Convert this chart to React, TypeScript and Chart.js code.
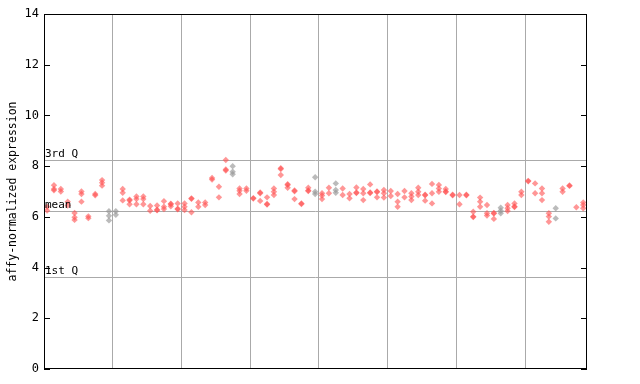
import React, { useEffect, useRef } from "react";
import { Chart, registerables } from "chart.js";

Chart.register(...registerables);

// Expression values per sample column (up to three replicates; null = absent)
const replicateA: (number | null)[] = [
  6.4, 7.25, 7.1, 6.6, 6.15, 7.0, 6.02, 6.9, 7.45, 6.22,
  6.22, 7.1, 6.68, 6.8, 6.8, 6.43, 6.45, 6.62, 6.52, 6.53,
  6.53, 6.73, 6.57, 6.57, 7.53, 7.19, 8.24, 8.0, 7.12, 7.12,
  6.74, 6.96, 6.77, 7.12, 7.92, 7.29, 7.04, 6.53, 7.15, 7.56,
  6.93, 7.15, 7.32, 7.12, 6.9, 7.16, 7.1, 7.28, 7.0, 7.06,
  7.02, 6.9, 7.02, 6.93, 7.15, 6.87, 7.3, 7.26, 7.1, 6.87,
  6.86, 6.87, 6.2, 6.76, 6.47, 6.15, 6.36, 6.47, 6.53, 6.99,
  7.42, 7.32, 7.12, 6.14, 6.34, 7.12, 7.24, 6.38, 6.57,
];
const replicateB: (number | null)[] = [
  6.25, 7.1, 7.0, 6.45, 5.98, 6.9, 5.95, 6.85, 7.35, 6.04,
  6.08, 6.95, 6.65, 6.7, 6.7, 6.24, 6.28, 6.4, 6.5, 6.32,
  6.4, 6.71, 6.4, 6.47, 7.47, 6.77, 7.87, 7.78, 7.03, 7.03,
  6.72, 6.93, 6.51, 6.99, 7.89, 7.26, 7.01, 6.51, 7.04, 6.99,
  6.84, 6.93, 7.06, 6.86, 6.73, 6.96, 6.93, 6.96, 6.98, 6.93,
  6.82, 6.6, 6.77, 6.8, 6.99, 6.85, 6.93, 7.12, 7.0, 6.85,
  6.5, 6.85, 6.01, 6.6, 6.14, 6.13, 6.24, 6.34, 6.41, 6.86,
  7.4, 6.93, 6.93, 6.01, 5.94, 6.99, 7.22, null, 6.47,
];
const replicateC: (number | null)[] = [
  null, 7.05, null, null, 5.88, 6.6, null, null, 7.23, 5.86,
  null, 6.65, 6.5, 6.5, 6.5, null, 6.26, 6.31, 6.42, 6.3,
  6.27, 6.18, null, null, null, null, 7.83, 7.68, 6.9, null,
  null, 6.63, 6.49, 6.86, 7.65, 7.15, 6.7, null, 7.02, 6.9,
  6.7, null, 6.95, null, null, 6.94, 6.66, 6.94, 6.77, 6.76,
  null, 6.4, null, 6.66, 6.86, 6.64, 6.53, 6.99, 6.98, null,
  null, null, 5.99, 6.4, 6.05, 5.92, 6.14, 6.23, 6.39, null,
  null, null, 6.66, 5.81, null, null, null, null, 6.34,
];
const grayColumns: number[] = [9, 10, 27, 39, 42, 66, 74];

const yTicks: number[] = [0, 2, 4, 6, 8, 10, 12, 14];
const quartileLabels: string[] = ["3rd Q", "mean", "1st Q"];
const quartileValues: number[] = [8.23, 6.23, 3.62];
const yTitle = "affy-normalized expression";
const sampleCount = 79;
const gridEvery = 10;

const MONO = "'DejaVu Sans Mono', monospace";

export default function App() {
  const canvasRef = useRef<HTMLCanvasElement | null>(null);

  useEffect(() => {
    document.body.style.margin = "0";
    const canvas = canvasRef.current;
    if (!canvas) return;

    const redPts: { x: number; y: number }[] = [];
    const grayPts: { x: number; y: number }[] = [];
    [replicateA, replicateB, replicateC].forEach((rep) => {
      rep.forEach((v, i) => {
        if (v === null || v === undefined) return;
        const p = { x: i + 0.45, y: v };
        if (grayColumns.includes(i)) grayPts.push(p);
        else redPts.push(p);
      });
    });

    const overlay = {
      id: "overlay",
      beforeDatasetsDraw(chart: any) {
        const { ctx, chartArea, scales } = chart;
        const ys = scales.y;
        ctx.save();
        ctx.strokeStyle = "#aaaaaa";
        ctx.lineWidth = 1;
        quartileValues.forEach((q) => {
          const py = Math.round(ys.getPixelForValue(q)) + 0.5;
          ctx.beginPath();
          ctx.moveTo(chartArea.left, py);
          ctx.lineTo(chartArea.right, py);
          ctx.stroke();
        });
        ctx.restore();
      },
      afterDraw(chart: any) {
        const { ctx, chartArea, scales } = chart;
        const ys = scales.y;
        ctx.save();
        ctx.strokeStyle = "#000";
        ctx.lineWidth = 1;
        ctx.strokeRect(
          Math.round(chartArea.left) + 0.5,
          Math.round(chartArea.top) + 0.5,
          Math.round(chartArea.right - chartArea.left) - 1,
          Math.round(chartArea.bottom - chartArea.top) - 1
        );
        yTicks.forEach((t) => {
          const py = Math.round(ys.getPixelForValue(t)) + 0.5;
          ctx.beginPath();
          ctx.moveTo(chartArea.left, py);
          ctx.lineTo(chartArea.left + 6, py);
          ctx.moveTo(chartArea.right - 6, py);
          ctx.lineTo(chartArea.right, py);
          ctx.stroke();
        });
        ctx.fillStyle = "#000";
        ctx.font = `11px ${MONO}`;
        ctx.textAlign = "left";
        ctx.textBaseline = "bottom";
        quartileLabels.forEach((lab, i) => {
          const py = ys.getPixelForValue(quartileValues[i]);
          ctx.fillText(lab, chartArea.left + 1, py - 0.5);
        });
        ctx.restore();
      },
    };

    const chart = new Chart(canvas, {
      type: "scatter",
      data: {
        datasets: [
          {
            data: grayPts,
            pointStyle: "rectRot",
            pointRadius: 3.2,
            borderWidth: 0,
            backgroundColor: "rgba(150,150,150,0.65)",
          },
          {
            data: redPts,
            pointStyle: "rectRot",
            pointRadius: 3.2,
            borderWidth: 0,
            backgroundColor: "rgba(255,80,80,0.6)",
          },
        ],
      },
      options: {
        animation: false,
        responsive: false,
        maintainAspectRatio: false,
        layout: { padding: { top: 14, right: 53, left: 0, bottom: 0 } },
        plugins: {
          legend: { display: false },
          tooltip: { enabled: false },
        },
        scales: {
          x: {
            type: "linear",
            min: 0,
            max: sampleCount,
            afterFit: (s: any) => {
              s.height = 15;
            },
            afterBuildTicks: (s: any) => {
              const arr = [];
              for (let v = gridEvery; v < sampleCount; v += gridEvery) arr.push({ value: v });
              s.ticks = arr;
            },
            ticks: { display: false },
            border: { display: false },
            grid: {
              color: "#aaaaaa",
              lineWidth: 1,
              drawTicks: false,
            },
          },
          y: {
            min: 0,
            max: 14,
            afterFit: (s: any) => {
              s.width = 44;
            },
            ticks: {
              stepSize: 2,
              color: "#000",
              padding: 5,
              font: { family: MONO, size: 12 },
            },
            border: { display: false },
            grid: { display: false, drawTicks: false },
            title: {
              display: true,
              text: yTitle,
              color: "#000",
              font: { family: MONO, size: 11.5 },
              padding: { top: 6, bottom: 0 },
            },
          },
        },
      },
      plugins: [overlay],
    } as any);

    return () => chart.destroy();
  }, []);

  return (
    <div style={{ width: 640, height: 384, background: "#fff" }}>
      <canvas ref={canvasRef} width={640} height={384} style={{ display: "block" }} />
    </div>
  );
}
